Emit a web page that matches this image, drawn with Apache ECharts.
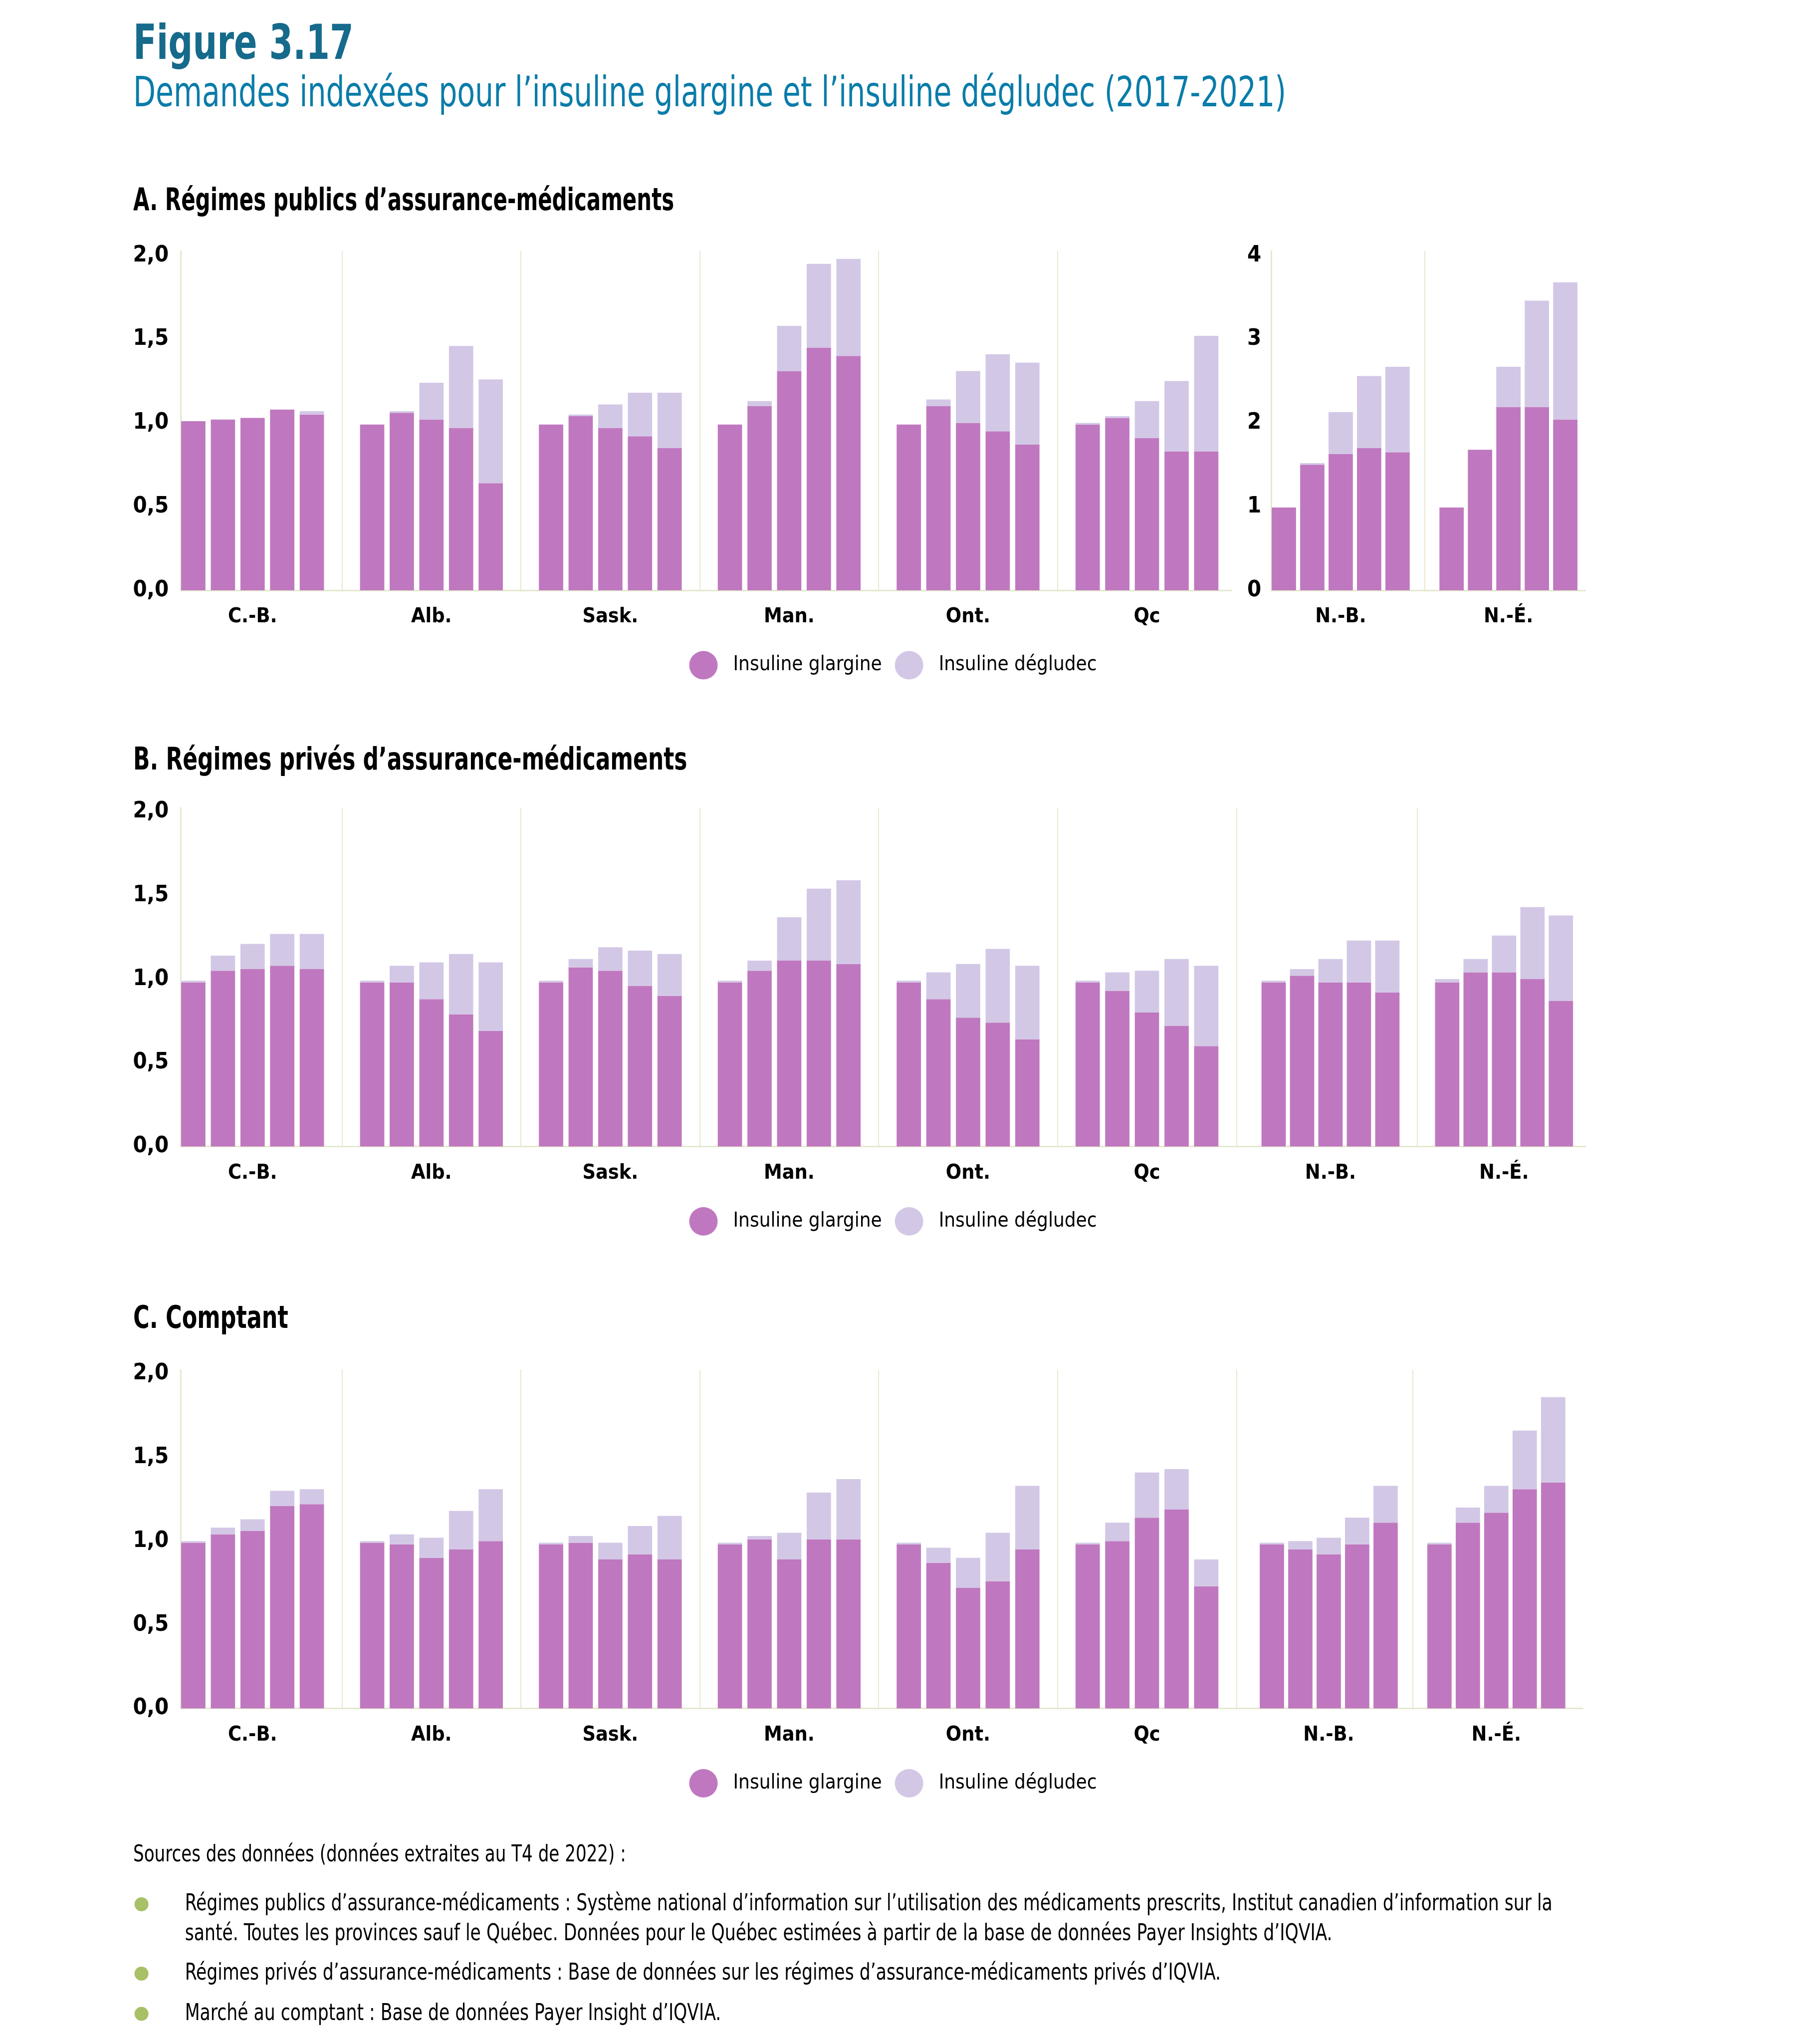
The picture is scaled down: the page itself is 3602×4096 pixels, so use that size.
<!DOCTYPE html>
<html lang="fr">
<head>
<meta charset="utf-8">
<title>Figure 3.17</title>
<script src="https://cdn.jsdelivr.net/npm/echarts@6/dist/echarts.min.js"></script>
<style>html,body{margin:0;padding:0;background:#fff;}#main{width:3602px;height:4096px;}</style>
</head>
<body>
<div id="main"></div>
<script>
// ---------- DATA ----------
const years = ['2017', '2018', '2019', '2020', '2021'];
const provMain = ['C.-B.', 'Alb.', 'Sask.', 'Man.', 'Ont.', 'Qc'];
const provAtl = ['N.-B.', 'N.-É.'];
const seriesNames = ['Insuline glargine', 'Insuline dégludec'];
const yTicksMain = ['0,0', '0,5', '1,0', '1,5', '2,0'];
const yTicksAtl = ['0', '1', '2', '3', '4'];

// A. Régimes publics (rows = provinces, columns = 2017..2021)
const pubGlarMain = [
  [1.01, 1.02, 1.03, 1.08, 1.05],
  [0.99, 1.06, 1.02, 0.97, 0.64],
  [0.99, 1.04, 0.97, 0.92, 0.85],
  [0.99, 1.10, 1.31, 1.45, 1.40],
  [0.99, 1.10, 1.00, 0.95, 0.87],
  [0.99, 1.03, 0.91, 0.83, 0.83]
];
const pubDegMain = [
  [0.00, 0.00, 0.00, 0.00, 0.02],
  [0.00, 0.01, 0.22, 0.49, 0.62],
  [0.00, 0.01, 0.14, 0.26, 0.33],
  [0.00, 0.03, 0.27, 0.50, 0.58],
  [0.00, 0.04, 0.31, 0.46, 0.49],
  [0.01, 0.01, 0.22, 0.42, 0.69]
];
const pubGlarAtl = [
  [0.99, 1.50, 1.63, 1.70, 1.65],
  [0.99, 1.68, 2.19, 2.19, 2.04]
];
const pubDegAtl = [
  [0.00, 0.02, 0.50, 0.86, 1.02],
  [0.00, 0.00, 0.48, 1.27, 1.64]
];

// B. Régimes privés
const privGlarMain = [
  [0.98, 1.05, 1.06, 1.08, 1.06],
  [0.98, 0.98, 0.88, 0.79, 0.69],
  [0.98, 1.07, 1.05, 0.96, 0.90],
  [0.98, 1.05, 1.11, 1.11, 1.09],
  [0.98, 0.88, 0.77, 0.74, 0.64],
  [0.98, 0.93, 0.80, 0.72, 0.60]
];
const privDegMain = [
  [0.01, 0.09, 0.15, 0.19, 0.21],
  [0.01, 0.10, 0.22, 0.36, 0.41],
  [0.01, 0.05, 0.14, 0.21, 0.25],
  [0.01, 0.06, 0.26, 0.43, 0.50],
  [0.01, 0.16, 0.32, 0.44, 0.44],
  [0.01, 0.11, 0.25, 0.40, 0.48]
];
const privGlarAtl = [
  [0.98, 1.02, 0.98, 0.98, 0.92],
  [0.98, 1.04, 1.04, 1.00, 0.87]
];
const privDegAtl = [
  [0.01, 0.04, 0.14, 0.25, 0.31],
  [0.02, 0.08, 0.22, 0.43, 0.51]
];

// C. Comptant
const cashGlarMain = [
  [0.99, 1.04, 1.06, 1.21, 1.22],
  [0.99, 0.98, 0.90, 0.95, 1.00],
  [0.98, 0.99, 0.89, 0.92, 0.89],
  [0.98, 1.01, 0.89, 1.01, 1.01],
  [0.98, 0.87, 0.72, 0.76, 0.95],
  [0.98, 1.00, 1.14, 1.19, 0.73]
];
const cashDegMain = [
  [0.01, 0.04, 0.07, 0.09, 0.09],
  [0.01, 0.06, 0.12, 0.23, 0.31],
  [0.01, 0.04, 0.10, 0.17, 0.26],
  [0.01, 0.02, 0.16, 0.28, 0.36],
  [0.01, 0.09, 0.18, 0.29, 0.38],
  [0.01, 0.11, 0.27, 0.24, 0.16]
];
const cashGlarAtl = [
  [0.98, 0.95, 0.92, 0.98, 1.11],
  [0.98, 1.11, 1.17, 1.31, 1.35]
];
const cashDegAtl = [
  [0.01, 0.05, 0.10, 0.16, 0.22],
  [0.01, 0.09, 0.16, 0.35, 0.51]
];

// ---------- STYLE ----------
const FF = '"Liberation Sans Narrow", "Arial Narrow", "DejaVu Sans Condensed", sans-serif';
const C_GLAR = '#bf78bf', C_DEG = '#d3c7e6', C_AXIS = '#e4e9cf';
const C_TITLE = '#166a8b', C_SUB = '#0a7ca9', C_BULLET = '#a8c066';
const BAR_W = 48.7;

const chart = echarts.init(document.getElementById('main'), null, {renderer: 'canvas'});

function labelFrom(ticks, step) {
  return function (v) {
    const i = Math.round(v / step);
    return Math.abs(v - i * step) < 1e-6 && ticks[i] !== undefined ? ticks[i] : '';
  };
}

const grids = [
  {left: 327.0, top: 502.9, width: 2151.3, height: 680.1},   // 0 A bars main
  {left: 2519.3, top: 502.9, width: 672.4, height: 680.1},   // 1 A bars atl
  {left: 362.1, top: 502.9, width: 2106.3, height: 680.1},   // 2 A axis main
  {left: 2548.2, top: 502.9, width: 629.3, height: 680.1},   // 3 A axis atl
  {left: 327.0, top: 1618.8, width: 2151.3, height: 678.7},  // 4 B bars main
  {left: 2493.0, top: 1618.8, width: 695.7, height: 678.7},  // 5 B bars atl
  {left: 362.1, top: 1618.8, width: 2815.4, height: 678.7},  // 6 B axis
  {left: 327.0, top: 2745.0, width: 2151.3, height: 678.6},  // 7 C bars main
  {left: 2495.5, top: 2745.0, width: 671.7, height: 678.6},  // 8 C bars atl
  {left: 362.1, top: 2745.0, width: 2810.1, height: 678.6}   // 9 C axis
].map(g => Object.assign({containLabel: false, outerBoundsMode: 'none'}, g));

function catAxis(gridIndex, data, showMax) {
  return {
    type: 'category', gridIndex, data,
    axisLine: {show: false}, axisTick: {show: false},
    axisLabel: {margin: 33, fontSize: 41, fontWeight: 'bold', color: '#000', fontFamily: FF},
    splitLine: {show: true, showMinLine: false, showMaxLine: showMax,
      lineStyle: {color: C_AXIS, width: 2}}
  };
}
function baseAxis(gridIndex) {
  return {
    type: 'value', gridIndex, min: 0, max: 1,
    axisLine: {show: true, onZero: false, lineStyle: {color: C_AXIS, width: 3}},
    axisTick: {show: false}, axisLabel: {show: false}, splitLine: {show: false}
  };
}
function hiddenY(gridIndex, max) {
  return {type: 'value', gridIndex, min: 0, max, show: false, splitLine: {show: false}};
}
function shownY(gridIndex, max, interval, ticks, margin) {
  return {
    type: 'value', gridIndex, min: 0, max, interval,
    axisLine: {show: true, onZero: false, lineStyle: {color: C_AXIS, width: 3}},
    axisTick: {show: false}, splitLine: {show: false},
    axisLabel: {margin, fontSize: 45, fontWeight: 'bold', color: '#000', fontFamily: FF,
      showMaxLabel: false, formatter: labelFrom(ticks, interval)}
  };
}

const xAxis = [
  catAxis(0, provMain, false),
  catAxis(1, provAtl, false),
  baseAxis(2),
  baseAxis(3),
  catAxis(4, provMain, true),
  catAxis(5, provAtl, false),
  baseAxis(6),
  catAxis(7, provMain, true),
  catAxis(8, provAtl, false),
  baseAxis(9)
];
const yAxis = [
  hiddenY(0, 2.027),
  hiddenY(1, 4.054),
  shownY(2, 2.027, 0.5, yTicksMain, 24),
  shownY(3, 4.054, 1, yTicksAtl, 20),
  hiddenY(4, 2.023),
  hiddenY(5, 2.023),
  shownY(6, 2.023, 0.5, yTicksMain, 24),
  hiddenY(7, 2.023),
  hiddenY(8, 2.023),
  shownY(9, 2.023, 0.5, yTicksMain, 24)
];

const series = [];
function addBars(glar, deg, axisIndex, key, gap) {
  years.forEach((yr, j) => {
    series.push({
      type: 'bar', name: seriesNames[0], xAxisIndex: axisIndex, yAxisIndex: axisIndex,
      stack: key + yr, barWidth: BAR_W, barGap: gap, silent: true,
      itemStyle: {color: C_GLAR}, data: glar.map(r => r[j])
    });
    series.push({
      type: 'bar', name: seriesNames[1], xAxisIndex: axisIndex, yAxisIndex: axisIndex,
      stack: key + yr, barWidth: BAR_W, barGap: gap, silent: true,
      itemStyle: {color: C_DEG}, data: deg.map(r => r[j])
    });
  });
}
addBars(pubGlarMain, pubDegMain, 0, 'A1-', '22%');
addBars(pubGlarAtl, pubDegAtl, 1, 'A2-', '17%');
addBars(privGlarMain, privDegMain, 4, 'B1-', '22%');
addBars(privGlarAtl, privDegAtl, 5, 'B2-', '17%');
addBars(cashGlarMain, cashDegMain, 7, 'C1-', '22%');
addBars(cashGlarAtl, cashDegAtl, 8, 'C2-', '17%');

function legendAt(top) {
  return {
    show: true, left: 1381.5, top, orient: 'horizontal', padding: 0,
    itemWidth: 57, itemHeight: 57, itemGap: 26, selectedMode: false,
    data: seriesNames.map(n => ({name: n, icon: 'circle'})),
    textStyle: {fontSize: 40, color: '#000', fontFamily: FF, padding: [0, 0, 0, 26]}
  };
}

function txt(x, y, text, size, color, weight, sx) {
  return {
    type: 'text', x, y, scaleX: sx, scaleY: 1, originX: 0, originY: 0, silent: true,
    style: {text, fill: color, fontSize: size, fontWeight: weight || 'normal', fontFamily: FF,
      textAlign: 'left', textVerticalAlign: 'middle', align: 'left', verticalAlign: 'middle'}
  };
}
function bullet(cy) {
  return {type: 'circle', silent: true, shape: {cx: 283.6, cy, r: 14}, style: {fill: C_BULLET}};
}

const SRC = 46, SRC_SX = 0.837;
const graphic = [
  txt(267, 93, 'Figure 3.17', 96, C_TITLE, 'bold', 0.794),
  txt(267, 191, 'Demandes indexées pour l’insuline glargine et l’insuline dégludec (2017-2021)', 84, C_SUB, 'normal', 0.774),
  txt(267, 405, 'A. Régimes publics d’assurance-médicaments', 63, '#000', 'bold', 0.74),
  txt(267, 1526, 'B. Régimes privés d’assurance-médicaments', 63, '#000', 'bold', 0.775),
  txt(267, 2645, 'C. Comptant', 63, '#000', 'bold', 0.785),
  txt(267, 3718, 'Sources des données (données extraites au T4 de 2022) :', SRC, '#000', 'normal', 0.825),
  bullet(3816),
  txt(370.7, 3816, 'Régimes publics d’assurance-médicaments : Système national d’information sur l’utilisation des médicaments prescrits, Institut canadien d’information sur la', SRC, '#000', 'normal', SRC_SX),
  txt(370.7, 3876, 'santé. Toutes les provinces sauf le Québec. Données pour le Québec estimées à partir de la base de données Payer Insights d’IQVIA.', SRC, '#000', 'normal', SRC_SX),
  bullet(3955),
  txt(370.7, 3955, 'Régimes privés d’assurance-médicaments : Base de données sur les régimes d’assurance-médicaments privés d’IQVIA.', SRC, '#000', 'normal', SRC_SX),
  bullet(4035.6),
  txt(370.7, 4035.6, 'Marché au comptant : Base de données Payer Insight d’IQVIA.', SRC, '#000', 'normal', SRC_SX)
];

chart.setOption({
  animation: false,
  backgroundColor: '#ffffff',
  grid: grids,
  xAxis, yAxis, series,
  legend: [legendAt(1304.5), legendAt(2419), legendAt(3545)],
  graphic
});
</script>
</body>
</html>
